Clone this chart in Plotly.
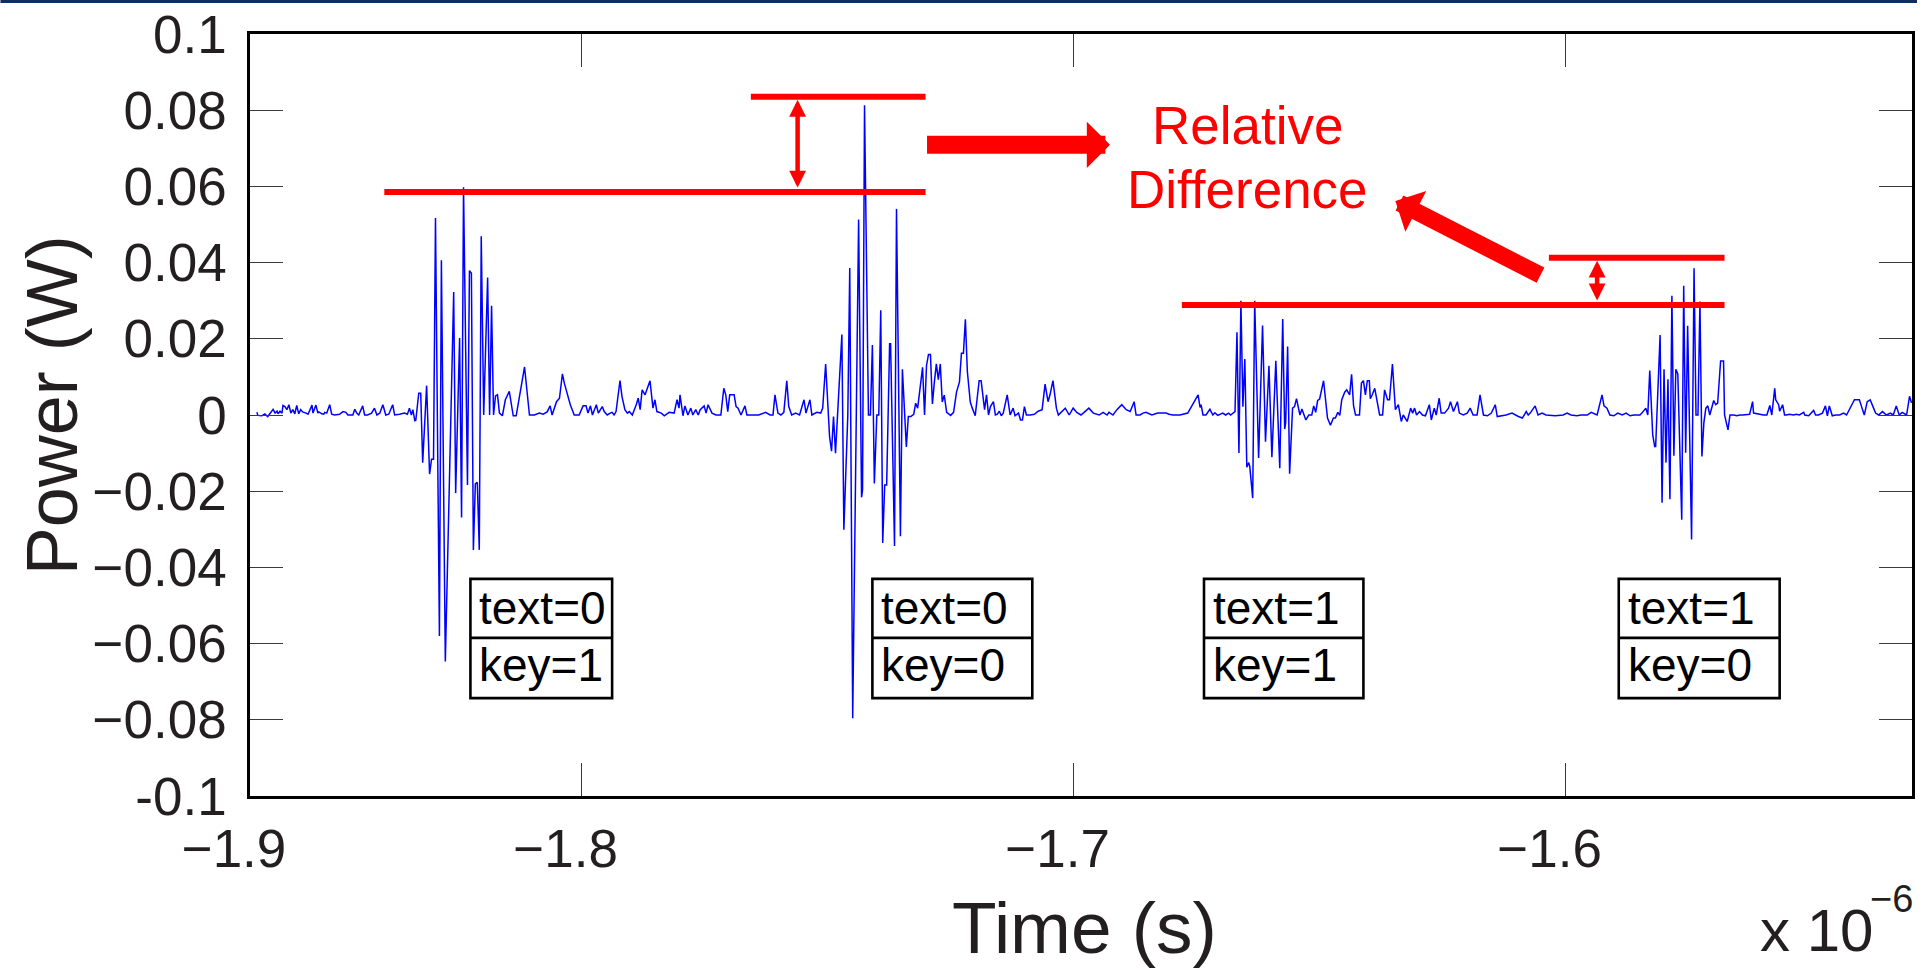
import plotly.graph_objects as go

# ---------------------------------------------------------------------------
# Measured power trace: (time in ns, power in mW) vertices, split by region
# ---------------------------------------------------------------------------
quiet_0 = [
    (-1866.0, 0.7), (-1865.8, -0.1), (-1865.0, -0.2), (-1864.4, 0.3), (-1863.8, -0.4),
    (-1863.3, 0.5), (-1862.7, 1.5), (-1862.3, 0.5), (-1861.9, 1.0), (-1861.7, 0.3),
    (-1861.3, 1.0), (-1860.9, 0.5), (-1860.7, 2.5), (-1860.3, 2.2), (-1859.9, 1.4),
    (-1859.5, 2.7), (-1859.1, 0.5), (-1858.7, 1.4), (-1858.3, 0.3), (-1857.9, 2.5),
    (-1857.5, 0.3), (-1857.1, 1.4), (-1856.7, 0.8), (-1856.0, 0.5), (-1855.6, 0.2),
    (-1854.8, 2.6), (-1854.6, 0.5), (-1854.0, 2.6), (-1853.6, 0.5), (-1853.4, 0.8),
    (-1852.8, 0.3), (-1852.4, 0.2), (-1852.2, 0.7), (-1851.8, 0.5), (-1851.2, 2.7),
    (-1850.8, 0.2), (-1850.2, 0.0), (-1849.2, 0.2), (-1848.5, 0.9), (-1847.9, 0.7),
    (-1847.5, 0.0), (-1846.5, 0.0), (-1846.1, 1.5), (-1845.7, 0.5), (-1845.3, 0.0),
    (-1844.5, 2.4), (-1844.1, 0.0), (-1843.5, 0.0), (-1842.7, 0.5), (-1842.1, 1.8),
    (-1841.6, 0.0), (-1841.0, 0.5), (-1840.4, 2.7), (-1839.8, 0.0), (-1839.2, 0.2),
    (-1838.4, 2.7), (-1838.0, 0.0), (-1837.0, 0.2), (-1836.0, 0.5), (-1835.4, 0.2),
    (-1835.0, 1.8), (-1834.6, 0.0), (-1834.3, 1.4), (-1833.9, -1.5),
]
burst_1 = [  # text=0, key=1
    (-1833.7, -1.4), (-1833.1, 5.7), (-1832.7, 5.7), (-1832.3, -12.5), (-1831.5, 7.7),
    (-1830.9, -15.5), (-1830.5, -11.6), (-1830.1, -11.6), (-1829.7, 51.7), (-1828.9, -58.0),
    (-1828.5, 40.6), (-1827.7, -64.7), (-1826.0, 32.3), (-1825.6, -20.5), (-1824.8, 20.2),
    (-1824.4, -26.9), (-1824.0, 59.8), (-1823.2, -18.4), (-1822.8, 37.9), (-1822.4, 37.2),
    (-1822.0, -35.4), (-1821.6, -18.1), (-1821.2, -17.7), (-1820.8, -35.4), (-1820.4, 46.9),
    (-1819.9, 0.0), (-1819.1, 36.1), (-1818.7, 0.0), (-1818.3, 28.7), (-1817.9, 0.0),
]
quiet_1 = [
    (-1817.5, 5.0), (-1817.1, 5.3), (-1816.7, 0.5), (-1816.1, -0.2), (-1815.5, 4.0),
    (-1814.7, 6.2), (-1813.9, -0.2), (-1813.3, -0.2), (-1812.6, 4.9), (-1811.6, 12.6),
    (-1810.6, 0.0), (-1809.6, 0.0), (-1808.6, 0.5), (-1807.8, 0.2), (-1807.0, 0.8),
    (-1806.4, 2.4), (-1806.0, 0.0), (-1805.1, 3.5), (-1804.5, 4.4), (-1803.9, 10.8),
    (-1803.5, 8.3), (-1802.9, 5.7), (-1802.3, 2.7), (-1801.5, 0.0), (-1800.5, 0.0),
    (-1799.7, 2.4), (-1799.1, 2.4), (-1798.7, 0.5), (-1798.2, 2.4), (-1797.8, 0.0),
    (-1797.0, 2.7), (-1796.6, 0.5), (-1795.8, 2.2), (-1795.4, 0.9), (-1794.8, 0.0),
    (-1794.2, 0.5), (-1793.8, 0.7), (-1793.4, 0.0), (-1793.0, 0.9), (-1792.2, 9.0),
    (-1791.8, 4.9), (-1791.2, 1.4), (-1790.7, 0.5), (-1790.3, 0.9), (-1789.7, 0.0),
    (-1788.9, 2.7), (-1788.5, 4.4), (-1788.1, 1.4), (-1787.7, 6.6), (-1787.1, 5.3),
    (-1786.7, 7.0), (-1786.1, 9.0), (-1785.5, 1.8), (-1785.1, 4.0), (-1784.7, 0.9),
    (-1783.8, 0.5), (-1783.2, -0.2), (-1782.2, 0.7), (-1781.2, 0.5), (-1780.6, 4.0),
    (-1780.2, 1.8), (-1780.0, 5.3), (-1779.4, -0.2), (-1779.0, 2.4), (-1778.4, 0.0),
    (-1777.8, 1.8), (-1777.4, 0.0), (-1776.8, 1.4), (-1776.3, 0.0), (-1775.9, 1.4),
    (-1775.1, 2.4), (-1774.7, 0.5), (-1774.3, 2.7), (-1773.5, 0.5), (-1772.7, 0.0),
    (-1771.7, 0.0), (-1771.1, 7.0), (-1770.7, 5.3), (-1770.3, 0.9), (-1769.9, 5.3),
    (-1769.0, 5.3), (-1768.6, 2.2), (-1768.2, 1.8), (-1767.6, 0.0), (-1766.8, 2.4),
    (-1766.4, 0.0), (-1764.0, 0.0), (-1762.6, 0.7), (-1761.7, 0.0), (-1761.1, 0.0),
    (-1760.7, 5.3), (-1760.1, 0.5), (-1759.5, 0.0), (-1758.9, 0.7), (-1758.3, 9.0),
    (-1757.9, 2.2), (-1757.3, 0.0), (-1756.5, 0.5), (-1755.7, 0.0), (-1754.8, 4.0),
    (-1754.4, 0.5), (-1753.6, 4.0), (-1753.2, 0.0), (-1752.8, 0.2), (-1752.2, 0.7),
    (-1751.4, 0.5), (-1751.0, 1.8),
]
burst_2 = [  # text=0, key=0
    (-1750.4, 13.4), (-1750.0, 3.9), (-1749.6, -5.7), (-1749.2, -9.5), (-1748.8, -0.4),
    (-1748.4, -10.0), (-1747.1, 21.1), (-1746.7, -30.1), (-1745.9, -0.1), (-1745.5, 38.6),
    (-1744.9, -79.6), (-1743.7, 51.3), (-1743.1, -21.6), (-1742.9, -19.6), (-1742.5, 81.3),
    (-1741.7, 0.0), (-1741.3, 0.0), (-1740.9, 18.4), (-1740.5, -18.0), (-1740.0, 0.0),
    (-1739.6, 0.0), (-1739.2, 27.5), (-1738.8, -33.6), (-1738.4, -18.4), (-1738.0, -18.4),
    (-1737.4, 18.7), (-1737.2, 18.7), (-1736.4, -34.4), (-1736.0, 54.1), (-1735.2, -31.8),
    (-1734.8, 12.0), (-1734.0, -8.4), (-1733.6, -0.4),
]
quiet_2 = [
    (-1733.1, -0.4), (-1732.5, 0.2), (-1732.1, 3.1), (-1731.7, 1.8), (-1730.7, 12.5),
    (-1730.3, 0.0), (-1729.9, 13.0), (-1729.5, 15.9), (-1729.1, 15.9), (-1728.7, 2.9),
    (-1728.3, 8.7), (-1727.9, 13.4), (-1727.5, 9.3), (-1727.1, 13.4), (-1726.7, 3.4),
    (-1726.3, 5.2), (-1725.8, 0.7), (-1725.0, -0.1), (-1724.4, 0.7), (-1723.8, 6.0),
    (-1723.2, 8.7), (-1722.8, 16.2), (-1722.4, 16.2), (-1722.0, 25.1), (-1721.6, 11.4),
    (-1721.0, 3.4), (-1720.6, 1.8), (-1720.0, -0.2), (-1719.2, 9.0), (-1718.8, 9.0),
    (-1718.1, 1.4), (-1717.7, 5.3), (-1717.3, 0.0), (-1716.9, 2.2), (-1716.3, 3.5),
    (-1715.9, 0.0), (-1715.5, 0.2), (-1715.1, 1.0), (-1714.7, -0.2), (-1714.3, 0.5),
    (-1713.5, 5.3), (-1712.9, 0.0), (-1712.3, 1.8), (-1711.9, -0.2), (-1711.2, 0.5),
    (-1710.8, -1.3), (-1710.4, -1.3), (-1710.0, 2.2), (-1709.6, 0.0), (-1708.8, 0.0),
    (-1708.0, 0.2), (-1707.2, 1.0), (-1706.4, 1.4), (-1705.8, 8.1), (-1705.2, 3.5),
    (-1704.8, 5.3), (-1704.2, 9.0), (-1703.5, 1.8), (-1703.1, 0.0), (-1701.7, 1.8),
    (-1700.9, 0.0), (-1700.1, 1.8), (-1699.3, 0.6), (-1698.5, 0.0), (-1697.7, 0.9),
    (-1696.9, 1.8), (-1696.0, 0.5), (-1694.8, 0.0), (-1694.0, 0.7), (-1693.2, 0.0),
    (-1692.8, 0.7), (-1692.0, 0.0), (-1691.2, 1.4), (-1690.2, 2.7), (-1689.3, 1.4),
    (-1688.5, 0.9), (-1687.7, 3.5), (-1687.3, 0.0), (-1686.5, 0.0), (-1685.9, 0.5),
    (-1685.3, 0.7), (-1684.1, 0.0), (-1682.9, 0.5), (-1681.2, 0.5), (-1680.6, 0.2),
    (-1679.8, 0.0), (-1678.4, 0.0), (-1676.8, 0.5), (-1674.7, 5.3), (-1674.3, 2.0),
    (-1674.1, 2.7), (-1673.7, 0.0), (-1673.1, 0.0), (-1672.3, 1.5), (-1671.7, 0.0),
    (-1671.3, 0.6), (-1670.7, -0.1), (-1669.7, 0.5), (-1669.1, 0.0), (-1668.5, 0.5),
    (-1668.1, 0.0), (-1667.2, 0.9),
]
burst_3 = [  # text=1, key=1
    (-1666.8, 21.7), (-1666.4, -10.0), (-1666.0, 30.0), (-1665.6, 2.2), (-1665.2, 14.7),
    (-1664.8, -13.7), (-1664.4, -12.5), (-1664.2, -13.5), (-1663.6, -21.8), (-1663.2, 30.0),
    (-1662.4, -11.3), (-1661.6, 23.5), (-1661.0, -7.0), (-1660.3, 12.9), (-1659.7, -11.1),
    (-1658.9, 14.2), (-1658.1, -14.0), (-1657.5, 25.2), (-1657.1, -3.7), (-1656.9, -2.1),
    (-1656.5, 18.0), (-1656.1, -15.4), (-1655.5, 1.8),
]
quiet_3 = [
    (-1655.1, 2.2), (-1654.7, 4.3), (-1654.3, 2.0), (-1654.0, 0.0), (-1653.6, 1.6),
    (-1652.8, -1.3), (-1652.2, 0.0), (-1651.6, 0.0), (-1651.2, 2.4), (-1650.8, 0.7),
    (-1650.4, 3.8), (-1650.0, 4.2), (-1649.2, 9.0), (-1648.4, -0.8), (-1647.8, -2.7),
    (-1647.2, -0.8), (-1646.8, -0.8), (-1646.3, 0.7), (-1645.9, -0.1), (-1645.5, 4.0),
    (-1644.9, 6.0), (-1644.5, 6.6), (-1643.9, 5.3), (-1643.5, 10.7), (-1643.1, 2.4),
    (-1642.7, 0.0), (-1641.9, 0.0), (-1641.5, 8.4), (-1641.1, 9.0), (-1640.7, 5.3),
    (-1640.3, 9.0), (-1639.9, 9.0), (-1639.7, 4.3), (-1639.3, 5.3), (-1638.8, 7.0),
    (-1637.8, 0.0), (-1637.2, 0.0), (-1636.8, 6.6), (-1636.2, 4.0), (-1635.8, 4.0),
    (-1635.2, 13.4), (-1634.6, 1.4), (-1634.0, 2.7), (-1633.4, -1.7), (-1633.0, 0.0),
    (-1632.2, -1.7), (-1631.5, 1.8), (-1631.1, 0.5), (-1630.7, 1.8), (-1630.3, 0.0),
    (-1629.7, 0.9), (-1629.1, 0.0), (-1628.5, -0.2), (-1627.7, 2.7), (-1627.3, -1.3),
    (-1626.7, 1.8), (-1626.3, 0.0), (-1625.7, 4.4), (-1625.3, 0.5), (-1624.6, 0.5),
    (-1623.8, 1.8), (-1623.4, 3.5), (-1622.8, 0.9), (-1622.0, 3.5), (-1621.6, 0.5),
    (-1620.8, 0.0), (-1620.0, 0.5), (-1619.4, 1.8), (-1618.8, 0.0), (-1618.0, 0.0),
    (-1617.4, 5.3), (-1616.7, 0.0), (-1615.9, -0.2), (-1615.1, 0.5), (-1614.3, 2.7),
    (-1613.9, -0.4), (-1612.1, 0.0), (-1610.9, 0.5), (-1609.6, -0.4), (-1608.8, -0.8),
    (-1608.0, 0.9), (-1607.6, 0.0), (-1607.2, 0.5), (-1606.2, 2.4), (-1605.6, 0.0),
    (-1604.8, 0.5), (-1604.0, 0.0), (-1602.1, -0.2), (-1600.5, 0.0), (-1599.7, 0.5),
    (-1598.9, 0.0), (-1597.7, -0.2), (-1596.9, 0.0), (-1595.6, 0.0), (-1594.8, 0.7),
    (-1593.6, 0.0), (-1592.6, 5.3), (-1592.2, 2.4), (-1591.6, 1.8), (-1591.0, 0.0),
    (-1590.2, -0.2), (-1589.4, 0.5), (-1588.5, 0.0), (-1587.7, 0.5), (-1586.9, -0.2),
    (-1586.1, 0.0), (-1584.9, 0.0), (-1584.5, 0.5), (-1583.7, 1.8), (-1583.3, 0.0),
]
burst_4 = [  # text=1, key=0
    (-1582.9, 11.7), (-1582.3, -5.2), (-1581.9, -8.3), (-1581.7, -8.3), (-1580.8, 21.0),
    (-1580.4, -23.0), (-1580.0, 12.0), (-1579.6, -12.5), (-1579.2, 9.4), (-1578.8, -22.1),
    (-1578.4, 31.3), (-1578.0, -10.7), (-1577.6, 12.0), (-1577.2, 10.8), (-1576.4, -27.5),
    (-1576.0, 33.9), (-1575.6, -9.9), (-1575.2, 23.4), (-1574.4, -32.7), (-1573.9, 38.5),
    (-1573.5, 0.0), (-1573.1, 0.0), (-1572.7, 29.8), (-1572.3, -10.9), (-1571.9, -2.0),
]
quiet_4 = [
    (-1571.5, 1.8), (-1571.1, 2.4), (-1570.7, 0.0), (-1569.9, 3.8), (-1569.5, 2.7),
    (-1569.1, 3.1), (-1568.5, 14.2), (-1567.9, 14.2), (-1567.7, 0.0), (-1567.0, -3.9),
    (-1566.6, 0.0), (-1565.8, 0.0), (-1565.2, -0.2), (-1564.6, 0.0), (-1564.0, 0.0),
    (-1562.6, 0.2), (-1562.0, 3.5), (-1561.8, 0.5), (-1560.8, 0.2), (-1559.8, 0.0),
    (-1559.1, 0.0), (-1558.5, 2.5), (-1558.1, 0.0), (-1557.5, 7.0), (-1557.3, 4.0),
    (-1556.7, 2.7), (-1556.5, 1.0), (-1555.9, 2.7), (-1555.5, 0.0), (-1555.1, 0.0),
    (-1554.5, 0.2), (-1553.7, 0.0), (-1553.1, 0.2), (-1552.5, 0.0), (-1551.6, 0.7),
    (-1551.4, 0.0), (-1550.6, -0.2), (-1549.6, 1.2), (-1549.2, 0.0), (-1548.6, 0.0),
    (-1547.8, 0.5), (-1547.2, 2.4), (-1546.8, -0.2), (-1546.4, 2.4), (-1545.8, -0.2),
    (-1545.1, 0.0), (-1544.3, 0.0), (-1543.5, 0.5), (-1542.9, 0.0), (-1541.9, 2.4),
    (-1541.3, 4.0), (-1540.9, 4.0), (-1540.3, 4.0), (-1539.9, 2.4), (-1539.3, 0.0),
    (-1538.7, 3.5), (-1538.1, 4.0), (-1537.6, 2.4), (-1537.0, 0.5), (-1536.4, 0.0),
    (-1535.6, 0.9), (-1534.8, 0.0), (-1534.0, 0.5), (-1533.4, 0.0), (-1532.8, 2.4),
    (-1532.2, 0.0), (-1531.6, 0.7), (-1530.7, 0.0), (-1530.1, 4.9), (-1529.7, 3.2),
]

segments = [quiet_0, burst_1, quiet_1, burst_2, quiet_2, burst_3, quiet_3, burst_4, quiet_4]

# Axis ranges / ticks (time axis in units of 1e-6 s)
x_range = [-1.8674, -1.5296]
x_tickvals = [-1.8674, -1.8, -1.7, -1.6]
x_ticktext = ["\u22121.9", "\u22121.8", "\u22121.7", "\u22121.6"]
y_range = [-0.1, 0.1]
y_tickvals = [-0.1, -0.08, -0.06, -0.04, -0.02, 0, 0.02, 0.04, 0.06, 0.08, 0.1]
y_ticktext = ["-0.1", "\u22120.08", "\u22120.06", "\u22120.04", "\u22120.02", "0",
              "0.02", "0.04", "0.06", "0.08", "0.1"]

# Peak reference levels (ns start, ns end, mW) and the gaps marked between them
peak_levels = [
    (-1840.1, -1730.1, 58.5),
    (-1765.6, -1730.1, 83.5),
    (-1678.0, -1567.7, 28.9),
    (-1603.4, -1567.7, 41.3),
]
gap_markers = [(-1756.1, 58.5, 83.5), (-1593.6, 28.9, 41.3)]
# Pointer arrows: (tail ns, tail mW, tip ns, tip mW, shaft width, head size)
pointers = [(-1730.1, 70.9, -1692.6, 70.9, 18, 0.43),
            (-1604.8, 36.5, -1634.6, 56.2, 17, 0.45)]
label_lines = [("Relative", -1664.6, 76.0), ("Difference", -1664.6, 59.2)]

# Bit-condition boxes: (left ns, right ns, upper text, lower text)
bit_boxes = [
    (-1822.6, -1793.8, "text=0", "key=1"),
    (-1740.9, -1708.4, "text=0", "key=0"),
    (-1673.5, -1641.1, "text=1", "key=1"),
    (-1589.2, -1556.5, "text=1", "key=0"),
]
box_top, box_mid, box_bottom = -0.0430, -0.0585, -0.0743

# ---------------------------------------------------------------------------
FONT = "Liberation Sans, Arial, Helvetica, sans-serif"
INK = "#231f20"
RED = "#ff0000"
W, H = 1920, 969
M_L, M_R, M_T, M_B = 250, 5, 34, 173
PW, PH = W - M_L - M_R, H - M_T - M_B


def px_x(p):
    return (p - M_L) / PW


def px_y(p):
    return (H - M_B - p) / PH


times, powers = [], []
for seg in segments:
    for t, p in seg:
        times.append(t / 1000.0)
        powers.append(p / 1000.0)

fig = go.Figure()
fig.add_trace(go.Scatter(
    x=times, y=powers, mode="lines",
    line=dict(color="#0000ff", width=1.5),
    hoverinfo="skip", showlegend=False,
))

shapes = []
annotations = []

for t0, t1, lvl in peak_levels:
    shapes.append(dict(type="line", xref="x", yref="y",
                       x0=t0 / 1000, x1=t1 / 1000, y0=lvl / 1000, y1=lvl / 1000,
                       line=dict(color=RED, width=6), layer="above"))

for t, lo, hi in gap_markers:
    annotations.append(dict(
        x=t / 1000, y=hi / 1000, ax=t / 1000, ay=lo / 1000,
        xref="x", yref="y", axref="x", ayref="y", text="", showarrow=True,
        arrowhead=2, startarrowhead=2, arrowside="end+start",
        arrowsize=0.75, startarrowsize=0.75, arrowwidth=4.5, arrowcolor=RED,
        standoff=3, startstandoff=3,
    ))

for t0, p0, t1, p1, wid, head in pointers:
    annotations.append(dict(
        x=t1 / 1000, y=p1 / 1000, ax=t0 / 1000, ay=p0 / 1000,
        xref="x", yref="y", axref="x", ayref="y", text="", showarrow=True,
        arrowhead=1, arrowsize=head, arrowwidth=wid, arrowcolor=RED,
    ))

for txt, t, p in label_lines:
    annotations.append(dict(
        x=t / 1000, y=p / 1000, xref="x", yref="y", text=txt, showarrow=False,
        xanchor="center", yanchor="middle",
        font=dict(family=FONT, size=53, color=RED),
    ))

for t0, t1, upper, lower in bit_boxes:
    shapes.append(dict(type="rect", xref="x", yref="y",
                       x0=t0 / 1000, x1=t1 / 1000, y0=box_bottom, y1=box_top,
                       line=dict(color="black", width=2.6), fillcolor="white", layer="above"))
    shapes.append(dict(type="line", xref="x", yref="y",
                       x0=t0 / 1000, x1=t1 / 1000, y0=box_mid, y1=box_mid,
                       line=dict(color="black", width=2.6), layer="above"))
    annotations.append(dict(
        x=t0 / 1000, y=(box_top + box_mid) / 2, xref="x", yref="y", text=upper,
        showarrow=False, xanchor="left", yanchor="middle", xshift=7,
        font=dict(family=FONT, size=46, color="black"),
    ))
    annotations.append(dict(
        x=t0 / 1000, y=(box_mid + box_bottom) / 2, xref="x", yref="y", text=lower,
        showarrow=False, xanchor="left", yanchor="middle", xshift=7, yshift=3,
        font=dict(family=FONT, size=46, color="black"),
    ))

# Axis titles and exponent
annotations.append(dict(
    x=px_x(1086), y=px_y(927), xref="paper", yref="paper", text="Time (s)",
    showarrow=False, xanchor="center", yanchor="middle",
    font=dict(family=FONT, size=73, color=INK),
))
annotations.append(dict(
    x=px_x(52), y=px_y(405), xref="paper", yref="paper", text="Power (W)",
    showarrow=False, xanchor="center", yanchor="middle", textangle=-90,
    font=dict(family=FONT, size=72, color=INK),
))
annotations.append(dict(
    x=px_x(1761), y=px_y(930), xref="paper", yref="paper", text="x 10",
    showarrow=False, xanchor="left", yanchor="middle",
    font=dict(family=FONT, size=60, color=INK),
))
annotations.append(dict(
    x=px_x(1918), y=px_y(899), xref="paper", yref="paper", text="\u22126",
    showarrow=False, xanchor="right", yanchor="middle",
    font=dict(family=FONT, size=38, color=INK),
))

# thin navy rule along the top edge of the page
shapes.append(dict(type="rect", xref="paper", yref="paper",
                   x0=px_x(0), x1=px_x(W), y0=px_y(0), y1=px_y(3),
                   line=dict(width=0), fillcolor="#0b2f63", layer="above"))

axis_common = dict(
    showline=True, linecolor="black", linewidth=2.5, mirror="ticks",
    ticks="inside", ticklen=33, tickwidth=1.3, tickcolor="#3a3a3a",
    showgrid=False, zeroline=False,
    tickfont=dict(family=FONT, size=53, color=INK),
)

fig.update_layout(
    width=W, height=H,
    margin=dict(l=M_L, r=M_R, t=M_T, b=M_B),
    paper_bgcolor="white", plot_bgcolor="white",
    showlegend=False,
    xaxis=dict(range=x_range, tickmode="array", tickvals=x_tickvals, ticktext=x_ticktext,
               ticklabelshift=-16, ticklabelstandoff=5, **axis_common),
    yaxis=dict(range=y_range, tickmode="array", tickvals=y_tickvals, ticktext=y_ticktext,
               ticklabelstandoff=10, **axis_common),
    shapes=shapes,
    annotations=annotations,
)

fig.write_html("out.html")
